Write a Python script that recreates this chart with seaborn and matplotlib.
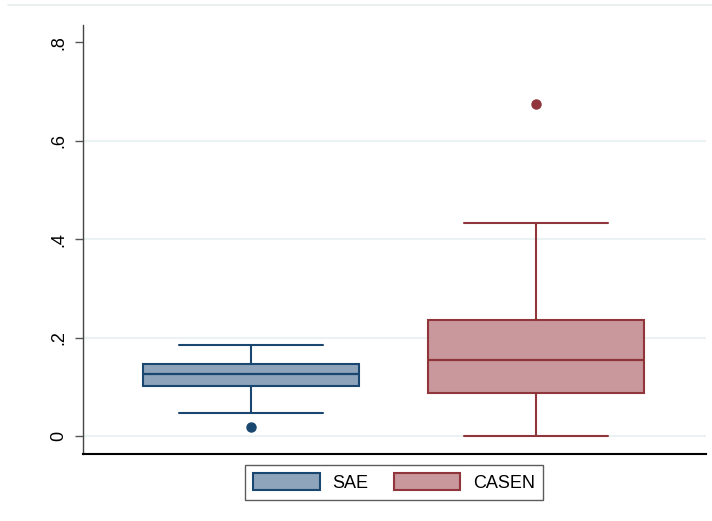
import matplotlib
matplotlib.use("Agg")
import matplotlib.pyplot as plt
from matplotlib.patches import Patch
from matplotlib.lines import Line2D
import seaborn as sns

# Summary statistics for each source
groups = ["SAE", "CASEN"]
whisker_low = [0.046, 0.0]
q1 = [0.1023, 0.088]
median = [0.1254, 0.1545]
q3 = [0.147, 0.2358]
whisker_high = [0.1856, 0.4336]
outliers = [[0.0183], [0.6748]]

edge_colors = ["#1a476f", "#90353b"]
fill_colors = ["#8da4bb", "#c8989c"]

ytick_values = [0, 0.2, 0.4, 0.6, 0.8]
ytick_labels = ["0", ".2", ".4", ".6", ".8"]

sns.set_theme(style="white")
plt.rcParams["font.family"] = ["Liberation Sans", "DejaVu Sans"]
plt.rcParams["text.color"] = "black"

fig = plt.figure(figsize=(7.12, 5.21), dpi=100)
ax = fig.add_axes([83 / 712, 1 - 454 / 521, (706 - 83) / 712, (454 - 25) / 521])

stats = []
for i, g in enumerate(groups):
    stats.append(dict(label=g, whislo=whisker_low[i], q1=q1[i], med=median[i],
                      q3=q3[i], whishi=whisker_high[i], fliers=outliers[i]))

positions = [1, 2]
for i, s in enumerate(stats):
    ec, fc = edge_colors[i], fill_colors[i]
    ax.bxp([s], positions=[positions[i]], widths=0.758, capwidths=0.502,
           patch_artist=True, showfliers=True, manage_ticks=False,
           boxprops=dict(facecolor=fc, edgecolor=ec, linewidth=1.5),
           medianprops=dict(color=ec, linewidth=1.6),
           whiskerprops=dict(color=ec, linewidth=1.5),
           capprops=dict(color=ec, linewidth=1.5),
           flierprops=dict(marker="o", markersize=6.5, markerfacecolor=ec,
                           markeredgecolor=ec, linestyle="none"),
           zorder=3)

ax.set_xlim(1 - 168 / 285, 2 + 170 / 285)
ax.set_ylim(-18 / 492, 411 / 492)
ax.set_xticks([])
ax.set_yticks(ytick_values)
ax.set_yticklabels(ytick_labels, rotation=90, va="center")
ax.tick_params(axis="y", left=True, length=6, width=1, color="#555555",
               pad=5, labelsize=13, labelcolor="black")

ax.yaxis.grid(True, color="#eaf2f3", linewidth=1.5, zorder=0)
ax.set_axisbelow(True)
ax.get_ygridlines()[-1].set_visible(False)

for side in ["top", "right"]:
    ax.spines[side].set_visible(False)
ax.spines["left"].set_color("#444444")
ax.spines["left"].set_linewidth(1.0)
ax.spines["bottom"].set_color("black")
ax.spines["bottom"].set_linewidth(1.5)

# Light outline across the top of the graph region
fig.add_artist(Line2D([8 / 712, 1.0], [1 - 5 / 521, 1 - 5 / 521],
                      transform=fig.transFigure, color="#e6eeee", linewidth=1.2))

handles = [Patch(facecolor=fill_colors[i], edgecolor=edge_colors[i], linewidth=1.5,
                 label=groups[i]) for i in range(len(groups))]
leg = fig.legend(handles=handles, loc="center", ncol=2,
                 bbox_to_anchor=(394 / 712, 1 - 482.5 / 521),
                 bbox_transform=fig.transFigure, fontsize=13, frameon=True,
                 fancybox=False, edgecolor="#333333", handlelength=3.7,
                 handleheight=1.0, handletextpad=0.7, columnspacing=1.4,
                 borderpad=0.45, borderaxespad=0, labelcolor="black")
leg.get_frame().set_linewidth(1.0)

fig.savefig("out.png", dpi=100, facecolor="white")
